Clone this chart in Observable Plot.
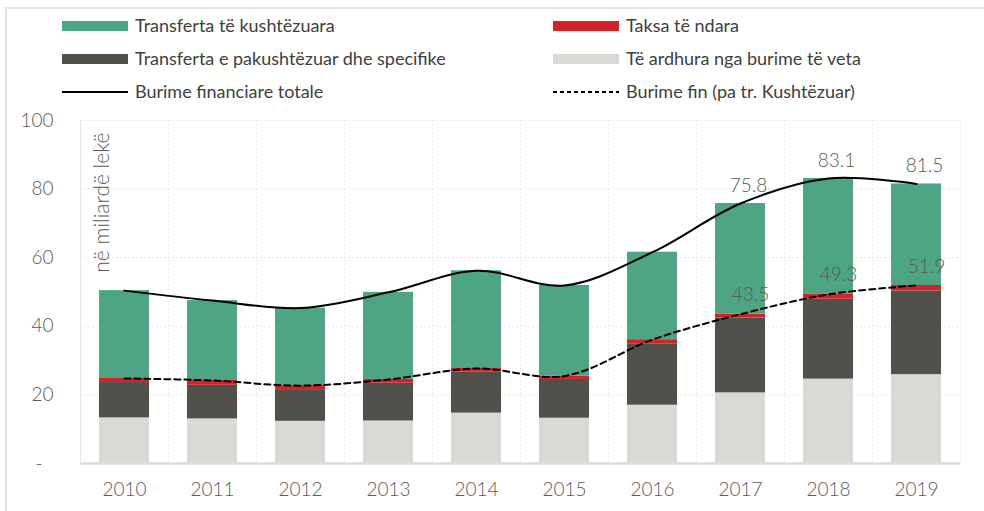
<!DOCTYPE html>
<html>
<head>
<meta charset="utf-8">
<script src="https://cdn.jsdelivr.net/npm/d3@7"></script>
<script src="https://cdn.jsdelivr.net/npm/@observablehq/plot@0.6"></script>
<style>
  html, body { margin: 0; padding: 0; background: #fff; }
  #wrap { position: relative; width: 984px; height: 511px; overflow: hidden; font-family: Lato, "Open Sans", sans-serif; font-weight: 300; color: #404040; }
  #frame { position: absolute; left: 5px; top: 7px; width: 990px; height: 520px; border-top: 2px solid #e3e3e3; border-left: 2px solid #e3e3e3; }
  .lg { position: absolute; font-size: 18px; font-weight: 400; line-height: 20px; white-space: nowrap; color: #404040; }
  .sw { position: absolute; width: 66px; height: 10px; }
  .ln { position: absolute; width: 66px; height: 0; }
  #chart { position: absolute; left: 0; top: 105px; }
</style>
</head>
<body>
<div id="wrap">
  <div id="frame"></div>
  <div id="legend"></div>
  <div id="chart"></div>
</div>
<script>
const years = ["2010","2011","2012","2013","2014","2015","2016","2017","2018","2019"];
const ownRevenue   = [13.3, 13.0, 12.3, 12.4, 14.7, 13.2, 17.0, 20.6, 24.6, 25.9]; // Të ardhura nga burime të veta
const uncondTransf = [10.3,  9.8,  9.0, 11.0, 11.9, 11.3, 17.9, 21.8, 23.3, 24.4]; // Transferta e pakushtëzuar dhe specifike
const sharedTaxes  = [ 1.2,  1.4,  1.4,  1.1,  1.1,  1.0,  1.2,  1.1,  1.4,  1.6]; // Taksa të ndara
const condTransf   = [25.6, 23.3, 22.6, 25.4, 28.5, 26.4, 25.5, 32.3, 33.8, 29.6]; // Transferta të kushtëzuara
const totalFin     = [50.4, 47.5, 45.3, 49.9, 56.2, 51.9, 61.6, 75.8, 83.1, 81.5]; // Burime financiare totale
const finNoCond    = [24.8, 24.2, 22.7, 24.5, 27.7, 25.5, 36.1, 43.5, 49.3, 51.9]; // Burime fin (pa tr. Kushtëzuar)
const labelYears   = ["2017","2018","2019"];
const yTicks = [0, 20, 40, 60, 80, 100];

const seriesNames = ["Të ardhura nga burime të veta", "Transferta e pakushtëzuar dhe specifike", "Taksa të ndara", "Transferta të kushtëzuara"];
const seriesColors = ["#d9d9d5", "#514f4a", "#d2232a", "#4da583"];
const seriesValues = [ownRevenue, uncondTransf, sharedTaxes, condTransf];

const stackData = [];
seriesNames.forEach((s, si) => years.forEach((y, i) => stackData.push({year: y, series: s, value: seriesValues[si][i], order: si})));
const lineTotal = years.map((y, i) => ({year: y, value: totalFin[i]}));
const lineFin = years.map((y, i) => ({year: y, value: finNoCond[i]}));
const labTotal = lineTotal.filter(d => labelYears.includes(d.year));
const labFin = lineFin.filter(d => labelYears.includes(d.year));

// Legend
const legendItems = [
  {name: "Transferta të kushtëzuara", color: "#4da583", type: "sw", col: 0, row: 0},
  {name: "Taksa të ndara", color: "#d2232a", type: "sw", col: 1, row: 0},
  {name: "Transferta e pakushtëzuar dhe specifike", color: "#514f4a", type: "sw", col: 0, row: 1},
  {name: "Të ardhura nga burime të veta", color: "#d9d9d5", type: "sw", col: 1, row: 1},
  {name: "Burime financiare totale", color: "#000", type: "solid", col: 0, row: 2},
  {name: "Burime fin (pa tr. Kushtëzuar)", color: "#000", type: "dashed", col: 1, row: 2}
];
const legend = document.getElementById("legend");
const colX = [62, 553], rowY = [26, 59, 92];
legendItems.forEach(it => {
  const x = colX[it.col], y = rowY[it.row];
  const m = document.createElement("div");
  if (it.type === "sw") {
    m.className = "sw"; m.style.left = x + "px"; m.style.top = (y - 5) + "px"; m.style.background = it.color;
  } else {
    m.className = "ln"; m.style.left = x + "px"; m.style.top = (y - 1) + "px";
    m.style.borderTop = "2px solid #000";
    if (it.type === "dashed") m.style.borderTop = "none", m.style.height = "2px",
      m.style.background = "repeating-linear-gradient(90deg,#000 0 4px,transparent 4px 7px)";
  }
  legend.appendChild(m);
  const t = document.createElement("div");
  t.className = "lg"; t.textContent = it.name; t.style.left = (x + 73) + "px"; t.style.top = (y - 11) + "px";
  legend.appendChild(t);
});

const W = 984, H = 406, mL = 80, mR = 24;
const step = (W - mL - mR) / years.length;

const plot = Plot.plot({
  width: W, height: H,
  marginLeft: mL, marginRight: mR, marginTop: 15, marginBottom: 48,
  style: {fontFamily: "Lato, 'Open Sans', sans-serif", fontWeight: 300, fontSize: "19px", color: "#595959", background: "transparent"},
  x: {type: "band", domain: years, paddingInner: 0.43, paddingOuter: 0.215, label: null},
  y: {domain: [0, 100], label: null},
  color: {domain: seriesNames, range: seriesColors},
  marks: [
    Plot.gridY([20, 40, 60, 80, 100], {stroke: "#e6e6e6", strokeOpacity: 1, strokeDasharray: "2,2"}),
    Plot.ruleX(years.slice(1), {dx: -step / 2, stroke: "#ececec", strokeDasharray: "2,2"}),
    Plot.frame({stroke: "#e8e8e8", strokeDasharray: "2,2"}),
    Plot.ruleX([years[0]], {dx: -step / 2, stroke: "#e6e6e6"}),
    Plot.barY(stackData, {x: "year", y: "value", fill: "series", order: seriesNames}),
    Plot.ruleY([0], {stroke: "#dcdcdc", strokeWidth: 2.5}),
    Plot.line(lineTotal, {x: "year", y: "value", curve: "catmull-rom", stroke: "#000", strokeWidth: 2}),
    Plot.line(lineFin, {x: "year", y: "value", curve: "catmull-rom", stroke: "#000", strokeWidth: 2, strokeDasharray: "6,4"}),
    Plot.text(labTotal, {x: "year", y: "value", text: d => d.value.toFixed(1), dy: -18, dx: 8, fontSize: 19, fill: "#595959"}),
    Plot.text(labFin, {x: "year", y: "value", text: d => d.value.toFixed(1), dy: -19, dx: 10, fontSize: 19, fill: "#595959"}),
    Plot.text(["në miliardë lekë"], {frameAnchor: "top-left", text: d => d, rotate: -90, textAnchor: "end", dx: 14, dy: 12, fontSize: 21, fill: "#595959"}),
    Plot.axisY({ticks: yTicks, tickSize: 0, tickPadding: 27, tickFormat: d => d === 0 ? "-\u2007" : String(d), fontSize: 19, fill: "#595959"}),
    Plot.axisX({tickSize: 0, tickPadding: 19, fontSize: 19, fill: "#595959"})
  ]
});
document.getElementById("chart").appendChild(plot);
</script>
</body>
</html>
